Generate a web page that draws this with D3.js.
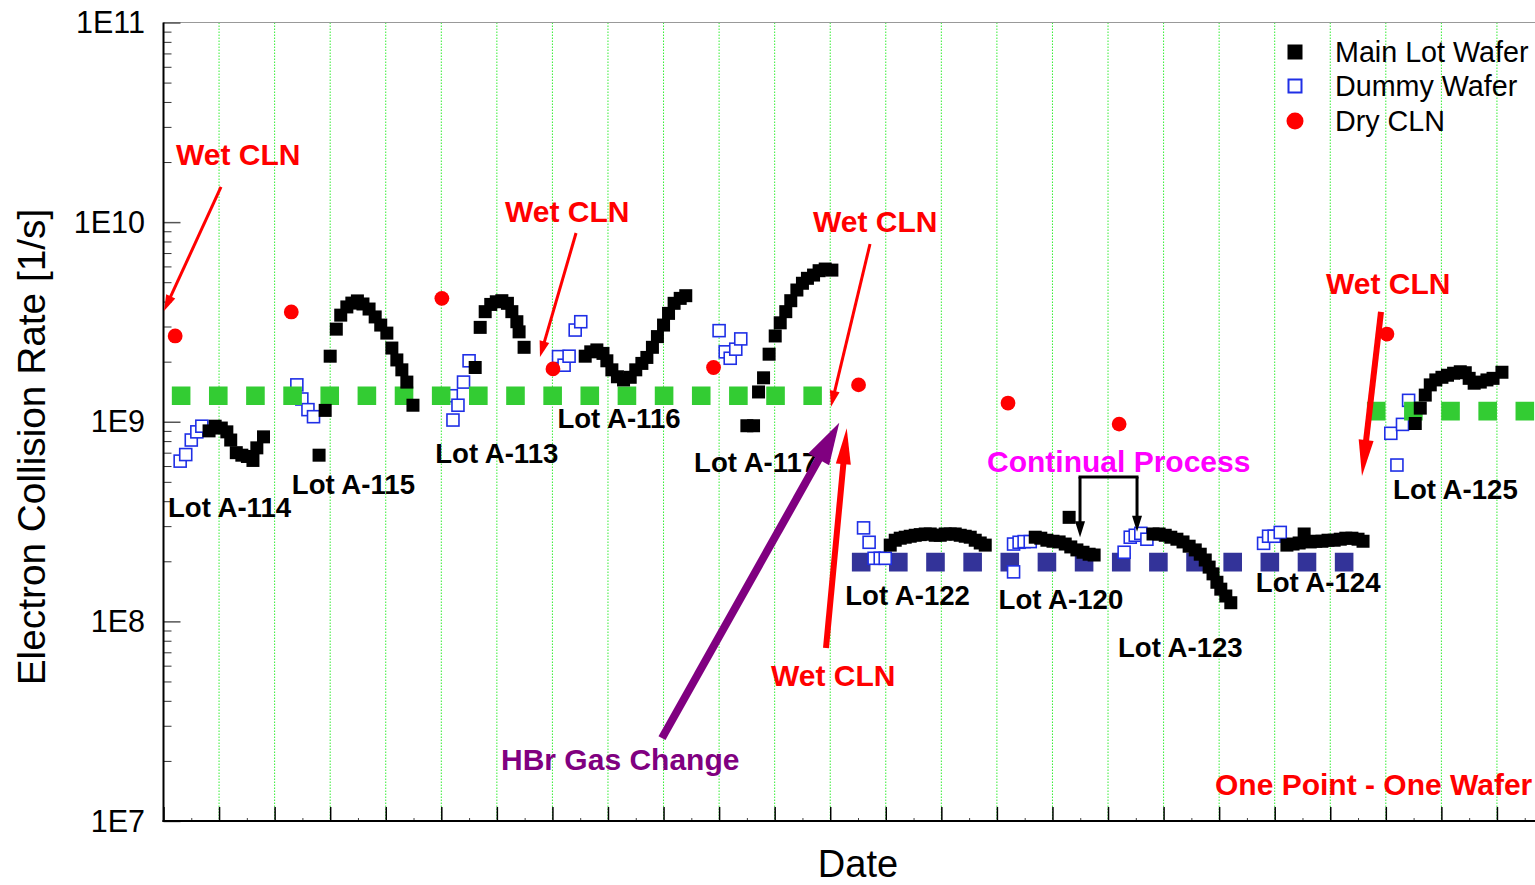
<!DOCTYPE html>
<html>
<head>
<meta charset="utf-8">
<script src="https://cdn.jsdelivr.net/npm/d3@7"></script>
<style>
  body { margin: 0; background: #fff; }
  svg { display: block; }
  text { font-family: "Liberation Sans", Arial, Helvetica, sans-serif; }
</style>
</head>
<body>
<svg id="chart" width="1535" height="885"></svg>
<script>
// Electron collision rate per processed wafer, in process order (one point = one wafer)

const yTickValues = [1e7, 1e8, 1e9, 1e10, 1e11];
const yTickLabels = ["1E7", "1E8", "1E9", "1E10", "1E11"];
const xGridDays = d3.range(0, 26);

// [position, rate]
const mainLotWafer = [
  // Lot A-114
  [0.82, 9.0e8], [0.93, 9.5e8], [1.04, 9.3e8], [1.14, 8.9e8], [1.21, 8.1e8], [1.31, 7.0e8],
  [1.41, 6.8e8], [1.51, 6.7e8], [1.61, 6.4e8], [1.68, 7.4e8], [1.80, 8.4e8],
  // Lot A-115
  [2.80, 6.8e8], [2.91, 1.14e9], [3.00, 2.13e9], [3.11, 2.91e9], [3.19, 3.42e9], [3.30, 3.76e9],
  [3.39, 3.93e9], [3.49, 4.03e9], [3.59, 3.89e9], [3.70, 3.67e9], [3.81, 3.35e9], [3.91, 3.05e9],
  [4.02, 2.78e9], [4.11, 2.34e9], [4.20, 2.04e9], [4.29, 1.82e9], [4.38, 1.58e9], [4.49, 1.21e9],
  // Lot A-113
  [5.61, 1.87e9], [5.70, 2.97e9], [5.79, 3.56e9], [5.89, 3.87e9], [5.99, 3.99e9], [6.09, 4.04e9],
  [6.19, 3.92e9], [6.27, 3.56e9], [6.36, 3.17e9], [6.40, 2.82e9], [6.49, 2.36e9],
  // Lot A-116
  [7.59, 2.13e9], [7.69, 2.24e9], [7.80, 2.29e9], [7.91, 2.20e9], [7.98, 2.02e9], [8.07, 1.82e9],
  [8.17, 1.68e9], [8.28, 1.62e9], [8.40, 1.67e9], [8.50, 1.82e9], [8.61, 1.96e9], [8.70, 2.10e9],
  [8.80, 2.36e9], [8.89, 2.67e9], [9.00, 3.05e9], [9.09, 3.49e9], [9.19, 3.92e9], [9.30, 4.15e9],
  [9.40, 4.28e9],
  // Lot A-117
  [10.50, 9.55e8], [10.62, 9.55e8], [10.71, 1.41e9], [10.80, 1.66e9], [10.90, 2.18e9], [11.01, 2.69e9],
  [11.10, 3.13e9], [11.20, 3.56e9], [11.29, 4.04e9], [11.40, 4.57e9], [11.50, 4.94e9], [11.59, 5.23e9],
  [11.70, 5.43e9], [11.80, 5.71e9], [11.91, 5.82e9], [12.03, 5.75e9],
  // Lot A-122
  [13.08, 2.41e8], [13.17, 2.55e8], [13.26, 2.61e8], [13.35, 2.64e8], [13.44, 2.67e8], [13.53, 2.70e8],
  [13.62, 2.72e8], [13.71, 2.74e8], [13.80, 2.74e8], [13.89, 2.70e8], [13.98, 2.70e8], [14.07, 2.74e8],
  [14.16, 2.74e8], [14.25, 2.74e8], [14.34, 2.70e8], [14.43, 2.67e8], [14.52, 2.64e8], [14.61, 2.55e8],
  [14.70, 2.47e8], [14.79, 2.41e8],
  // Lot A-120
  [15.69, 2.64e8], [15.79, 2.61e8], [15.90, 2.55e8], [16.01, 2.52e8], [16.12, 2.50e8], [16.23, 2.44e8],
  [16.30, 3.32e8], [16.33, 2.36e8], [16.44, 2.28e8], [16.55, 2.22e8], [16.66, 2.17e8], [16.75, 2.15e8],
  // Lot A-123
  [17.81, 2.74e8], [17.92, 2.74e8], [18.03, 2.70e8], [18.13, 2.64e8], [18.24, 2.58e8], [18.35, 2.50e8],
  [18.46, 2.38e8], [18.57, 2.28e8], [18.66, 2.17e8], [18.75, 2.03e8], [18.82, 1.87e8], [18.89, 1.73e8],
  [18.96, 1.57e8], [19.03, 1.45e8], [19.12, 1.34e8], [19.21, 1.24e8],
  // Lot A-124
  [20.22, 2.41e8], [20.33, 2.44e8], [20.44, 2.47e8], [20.53, 2.74e8], [20.64, 2.50e8], [20.74, 2.52e8],
  [20.85, 2.52e8], [20.96, 2.55e8], [21.07, 2.55e8], [21.18, 2.58e8], [21.28, 2.61e8], [21.39, 2.61e8],
  [21.50, 2.58e8], [21.59, 2.52e8],
  // Lot A-125
  [22.53, 9.8e8], [22.62, 1.17e9], [22.71, 1.36e9], [22.80, 1.53e9], [22.90, 1.62e9], [23.01, 1.67e9],
  [23.11, 1.71e9], [23.22, 1.75e9], [23.34, 1.78e9], [23.43, 1.76e9], [23.50, 1.65e9], [23.59, 1.56e9],
  [23.70, 1.58e9], [23.82, 1.62e9], [23.93, 1.65e9], [24.09, 1.77e9]
];

const dummyWafer = [
  [0.30, 6.35e8], [0.40, 6.85e8], [0.50, 8.1e8], [0.60, 8.9e8], [0.69, 9.5e8],
  [2.40, 1.53e9], [2.49, 1.30e9], [2.60, 1.15e9], [2.70, 1.06e9],
  [5.18, 1.35e9], [5.21, 1.02e9], [5.30, 1.21e9], [5.40, 1.58e9], [5.50, 2.02e9],
  [7.11, 2.12e9], [7.21, 1.92e9], [7.30, 2.13e9], [7.41, 2.88e9], [7.51, 3.17e9],
  [10.00, 2.86e9], [10.11, 2.24e9], [10.20, 2.08e9], [10.30, 2.31e9], [10.39, 2.60e9],
  [12.60, 2.94e8], [12.70, 2.49e8], [12.79, 2.07e8], [12.90, 2.07e8], [12.99, 2.07e8],
  [15.30, 1.77e8], [15.30, 2.44e8], [15.40, 2.49e8], [15.49, 2.51e8], [15.60, 2.51e8],
  [17.29, 2.22e8], [17.40, 2.64e8], [17.49, 2.70e8], [17.59, 2.76e8], [17.70, 2.58e8],
  [19.80, 2.46e8], [19.89, 2.67e8], [19.99, 2.67e8], [20.10, 2.79e8],
  [22.09, 8.75e8], [22.20, 6.07e8], [22.30, 9.70e8], [22.41, 1.28e9]
];

const dryCln = [
  [0.21, 2.69e9], [2.30, 3.55e9], [5.01, 4.15e9], [7.01, 1.84e9], [9.90, 1.87e9],
  [12.51, 1.53e9], [15.20, 1.24e9], [17.20, 9.73e8], [22.02, 2.75e9]
];

// reference levels: [start, end, rate]
const upperLevels = [[0.15, 11.85, 1.35e9], [21.66, 25, 1.13e9]];
const lowerLevels = [[12.39, 21.43, 1.98e8]];

// lot names: [name, position, rate at baseline]
const lotLabels = [
  ["Lot A-114", 0.08, 3.33e8], ["Lot A-115", 2.31, 4.34e8], ["Lot A-113", 4.89, 6.19e8],
  ["Lot A-116", 7.09, 9.27e8], ["Lot A-117", 9.55, 5.60e8], ["Lot A-122", 12.27, 1.21e8],
  ["Lot A-120", 15.03, 1.15e8], ["Lot A-123", 17.18, 6.63e7], ["Lot A-124", 19.66, 1.41e8],
  ["Lot A-125", 22.13, 4.10e8]
];

// event notes: [text, kind, position, rate at baseline]
const eventNotes = [
  ["Wet CLN", "clean", 0.225, 1.93e10], ["Wet CLN", "clean", 6.146, 1.0e10],
  ["Wet CLN", "clean", 11.69, 8.92e9], ["Wet CLN", "clean", 10.934, 4.74e7],
  ["Wet CLN", "clean", 20.923, 4.36e9], ["HBr Gas Change", "gas", 6.075, 1.80e7],
  ["Continual Process", "continual", 14.822, 5.57e8], ["One Point - One Wafer", "clean", 18.926, 1.35e7]
];

// event pointers: [kind, from position, from rate, to position, to rate]
const eventArrows = [
  ["thin", 1.035, 1.50e10, 0.01, 3.59e9],
  ["thin", 7.425, 8.82e9, 6.776, 2.11e9],
  ["thin", 12.716, 7.77e9, 12.014, 1.19e9],
  ["thick", 11.924, 7.35e7, 12.297, 9.27e8],
  ["thick", 21.913, 3.55e9, 21.571, 5.35e8],
  ["gas", 8.972, 2.60e7, 12.163, 9.89e8],
  ["bracket", 16.496, 5.28e8, 16.496, 2.64e8],
  ["bracket", 17.522, 5.28e8, 17.522, 2.81e8]
];
const bracketSpan = [16.496, 17.522, 5.28e8];

const legendItems = ["Main Lot Wafer", "Dummy Wafer", "Dry CLN"];

// ---------------------------------------------------------------------------
const svg = d3.select("#chart");
const plotLeft = 163.5, plotTop = 22.5, plotBottom = 821;
const x = d3.scaleLinear().domain([0, 25]).range([plotLeft, plotLeft + 25 * 55.56]);
const y = d3.scaleLog().domain([1e7, 1e11]).range([plotBottom, plotTop]);

const COLORS = { black: "#000", blue: "#1f2fe6", red: "#ff0000", green: "#33cc33",
                 navy: "#333399", purple: "#800080", magenta: "#ff00ff" };

// vertical dotted grid
svg.append("g").selectAll("line").data(xGridDays.filter(d => d > 0 && d < 25)).join("line")
  .attr("x1", d => x(d)).attr("x2", d => x(d)).attr("y1", plotTop).attr("y2", plotBottom)
  .attr("stroke", "#33ee33").attr("stroke-width", 1).attr("stroke-dasharray", "1.5,1.5");

// frame top
svg.append("line").attr("x1", plotLeft).attr("x2", 1535).attr("y1", plotTop).attr("y2", plotTop)
  .attr("stroke", "#999").attr("stroke-width", 1);

// y axis (ticks inside)
const minorY = [];
for (let e = 7; e < 11; e++) for (let m = 2; m <= 9; m++) minorY.push(m * Math.pow(10, e));
const gy = svg.append("g").attr("transform", `translate(${plotLeft},0)`)
  .call(d3.axisRight(y).tickValues(yTickValues).tickSize(17).tickFormat(""));
gy.select(".domain").remove();
gy.selectAll(".tick line").attr("stroke", "#555").attr("stroke-width", 1.5);
svg.append("g").attr("transform", `translate(${plotLeft},0)`)
  .call(d3.axisRight(y).tickValues(minorY).tickSize(8).tickFormat(""))
  .call(g => g.select(".domain").remove())
  .selectAll(".tick line").attr("stroke", "#333").attr("stroke-width", 1);
svg.append("g").selectAll("text").data(yTickValues).join("text")
  .attr("x", 145).attr("y", d => y(d)).attr("dy", "0.35em")
  .attr("text-anchor", "end").attr("font-size", 30.5).attr("fill", "#000")
  .text((d, i) => yTickLabels[i]);

// x axis (ticks inside)
const gx = svg.append("g").attr("transform", `translate(0,${plotBottom})`)
  .call(d3.axisTop(x).tickValues(xGridDays).tickSize(14).tickFormat(""));
gx.select(".domain").remove();
gx.selectAll(".tick line").attr("stroke", "#000").attr("stroke-width", 1.5);
svg.append("g").attr("transform", `translate(0,${plotBottom})`)
  .call(d3.axisTop(x).tickValues(xGridDays.map(d => d + 0.5)).tickSize(3).tickFormat(""))
  .call(g => g.select(".domain").remove())
  .selectAll(".tick line").attr("stroke", "#444");

svg.append("line").attr("x1", plotLeft).attr("x2", plotLeft).attr("y1", plotTop).attr("y2", plotBottom + 1)
  .attr("stroke", "#000").attr("stroke-width", 2);
svg.append("line").attr("x1", plotLeft - 1).attr("x2", 1535).attr("y1", plotBottom).attr("y2", plotBottom)
  .attr("stroke", "#000").attr("stroke-width", 2);

// axis titles
svg.append("text").attr("transform", "translate(45,447) rotate(-90)")
  .attr("text-anchor", "middle").attr("font-size", 38.8).attr("fill", "#000")
  .text("Electron Collision Rate [1/s]");
svg.append("text").attr("x", 858).attr("y", 877).attr("text-anchor", "middle")
  .attr("font-size", 38).attr("fill", "#000").text("Date");

// reference levels drawn as square-dotted bands
function levelLayer(data, color) {
  svg.append("g").selectAll("line").data(data).join("line")
    .attr("x1", d => x(d[0])).attr("x2", d => x(d[1]))
    .attr("y1", d => y(d[2])).attr("y2", d => y(d[2]))
    .attr("stroke", color).attr("stroke-width", 18.6)
    .attr("stroke-dasharray", "18.6,18.55");
}
levelLayer(lowerLevels, COLORS.navy);

// dummy wafers
const sq = 12;
svg.append("g").selectAll("rect").data(dummyWafer).join("rect")
  .attr("x", d => x(d[0]) - sq / 2).attr("y", d => y(d[1]) - sq / 2)
  .attr("width", sq).attr("height", sq)
  .attr("fill", "#fff").attr("stroke", COLORS.blue).attr("stroke-width", 1.6);

levelLayer(upperLevels, COLORS.green);

// main lot wafers
const bs = 13;
svg.append("g").selectAll("rect").data(mainLotWafer).join("rect")
  .attr("x", d => x(d[0]) - bs / 2).attr("y", d => y(d[1]) - bs / 2)
  .attr("width", bs).attr("height", bs).attr("fill", COLORS.black);

// dry cleans
svg.append("g").selectAll("circle").data(dryCln).join("circle")
  .attr("cx", d => x(d[0])).attr("cy", d => y(d[1])).attr("r", 7.4).attr("fill", COLORS.red);

// lot names
svg.append("g").selectAll("text").data(lotLabels).join("text")
  .attr("x", d => x(d[1])).attr("y", d => y(d[2]))
  .attr("font-size", 27.6).attr("font-weight", "bold").attr("fill", "#000")
  .text(d => d[0]);

// event arrows
const arrowStyle = {
  thin:    { color: COLORS.red, width: 3, headLen: 16, headW: 10 },
  thick:   { color: COLORS.red, width: 6, headLen: 36, headW: 15 },
  gas:     { color: COLORS.purple, width: 8, headLen: 42, headW: 24 },
  bracket: { color: COLORS.black, width: 3, headLen: 16, headW: 10 }
};
const ag = svg.append("g");
function drawArrow(d) {
  const s = arrowStyle[d[0]];
  const p0 = [x(d[1]), y(d[2])], p1 = [x(d[3]), y(d[4])];
  const dx = p1[0] - p0[0], dy = p1[1] - p0[1], len = Math.hypot(dx, dy);
  const ux = dx / len, uy = dy / len, px = -uy, py = ux;
  const base = [p1[0] - ux * s.headLen, p1[1] - uy * s.headLen];
  ag.append("line").attr("x1", p0[0]).attr("y1", p0[1])
    .attr("x2", base[0] + ux * 2).attr("y2", base[1] + uy * 2)
    .attr("stroke", s.color).attr("stroke-width", s.width);
  ag.append("path")
    .attr("d", `M${p1[0]},${p1[1]}L${base[0] + px * s.headW / 2},${base[1] + py * s.headW / 2}` +
               `L${base[0] - px * s.headW / 2},${base[1] - py * s.headW / 2}Z`)
    .attr("fill", s.color);
}
eventArrows.forEach(drawArrow);
ag.append("line").attr("x1", x(bracketSpan[0]) - 1.5).attr("x2", x(bracketSpan[1]) + 1.5)
  .attr("y1", y(bracketSpan[2])).attr("y2", y(bracketSpan[2]))
  .attr("stroke", COLORS.black).attr("stroke-width", 3);

// event notes
const noteColor = { clean: COLORS.red, gas: COLORS.purple, continual: COLORS.magenta };
svg.append("g").selectAll("text").data(eventNotes).join("text")
  .attr("x", d => x(d[2])).attr("y", d => y(d[3]))
  .attr("font-size", 30).attr("font-weight", "bold").attr("fill", d => noteColor[d[1]])
  .text(d => d[0]);

// legend
const lg = svg.append("g").attr("transform", "translate(1295,0)");
const legendRows = [52, 86, 121];
lg.append("rect").attr("x", -7.5).attr("y", legendRows[0] - 7.5).attr("width", 15).attr("height", 15).attr("fill", COLORS.black);
lg.append("rect").attr("x", -6.5).attr("y", legendRows[1] - 6.5).attr("width", 13).attr("height", 13)
  .attr("fill", "#fff").attr("stroke", COLORS.blue).attr("stroke-width", 2);
lg.append("circle").attr("cx", 0).attr("cy", legendRows[2]).attr("r", 8.5).attr("fill", COLORS.red);
lg.selectAll("text").data(legendItems).join("text")
  .attr("x", 40).attr("y", (d, i) => legendRows[i]).attr("dy", "0.36em")
  .attr("font-size", 28.7).attr("fill", "#000").text(d => d);
</script>
</body>
</html>
